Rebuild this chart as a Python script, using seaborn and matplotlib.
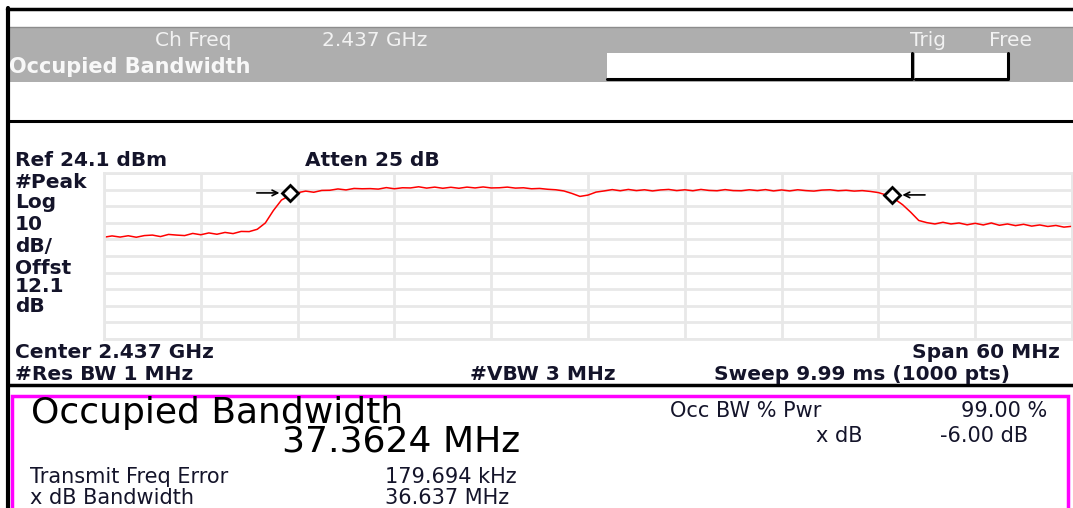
import numpy as np
import pandas as pd
import matplotlib
matplotlib.use("Agg")
import matplotlib.pyplot as plt
from matplotlib.patches import Rectangle
import seaborn as sns

# ---- data ----
center_mhz = 2437.0
span_mhz = 60.0
ref_dbm = 24.1
db_per_div = 10

# trace, sampled every 0.5 MHz from 2407 to 2467 MHz (dBm)
trace_dbm = [
    -14.6, -13.8, -14.5, -13.7, -14.6, -13.6, -13.3, -14.2, -12.9, -13.3,
    -13.6, -12.3, -13.1, -12.0, -12.8, -11.7, -12.4, -11.1, -11.2, -9.8,
    -6.0, 1.5, 7.8, 10.5, 12.2, 13.2, 12.5, 13.6, 13.7, 14.5,
    13.9, 14.8, 14.6, 14.7, 14.4, 15.3, 14.6, 15.2, 15.1, 15.8,
    15.0, 15.6, 14.9, 15.5, 14.9, 15.6, 15.1, 15.7, 15.1, 15.2,
    15.6, 15.0, 15.2, 14.6, 14.8, 14.3, 14.0, 13.3, 11.8, 10.0,
    10.8, 12.6, 13.3, 14.1, 13.4, 14.2, 13.5, 14.0, 13.3, 13.9,
    14.2, 13.5, 14.0, 13.4, 14.2, 13.6, 13.4, 14.1, 13.5, 13.4,
    14.0, 13.5, 14.1, 13.3, 13.9, 13.3, 14.0, 13.5, 13.2, 13.8,
    14.0, 13.4, 13.7, 13.2, 13.5, 13.0, 12.3, 10.8, 8.5, 5.0,
    0.5, -4.5, -5.8, -6.6, -5.6, -6.6, -6.0, -7.1, -6.2, -7.2,
    -6.0, -7.4, -6.6, -7.6, -6.8, -7.9, -7.2, -8.1, -7.5, -8.5,
    -8.0,
]
freq_mhz = np.linspace(center_mhz - span_mhz / 2, center_mhz + span_mhz / 2, len(trace_dbm))

occ_bw_mhz = 37.3624
freq_err_khz = 179.694
marker_levels = [12.1, 10.9]

df = pd.DataFrame({"freq": freq_mhz, "level": trace_dbm})

# ---- figure ----
W, H = 1073, 508
sns.set_style("white")
plt.rcParams["font.family"] = ["DejaVu Sans"]

fig = plt.figure(figsize=(W / 100, H / 100), dpi=100)

# background layer in pixel coordinates
bg = fig.add_axes([0, 0, 1, 1])
bg.set_xlim(0, W)
bg.set_ylim(H, 0)
bg.axis("off")

ink = "#14142a"
light = "#f2f2f2"

# header bands and frame
bg.add_patch(Rectangle((8, 28), W, 54, facecolor="#aeaeae", edgecolor="none"))
bg.plot([8, W], [27, 27], color="#8c8c8c", lw=1)
bg.plot([7, W], [8.5, 8.5], color="black", lw=2.5)
bg.plot([8, 8], [8, H], color="black", lw=3)
bg.plot([8, W], [121, 121], color="black", lw=2.2)
bg.plot([8, W], [385, 385], color="black", lw=2.5)

# white input boxes with dark bottom/right edge
for x0, x1 in [(607, 912), (915, 1008)]:
    bg.add_patch(Rectangle((x0, 53), x1 - x0, 26, facecolor="white", edgecolor="none"))
    bg.plot([x0, x1, x1], [79, 79, 53], color="black", lw=2.2)

hdr = dict(color=light, fontsize=14.5, va="center")
bg.text(155, 41, "Ch Freq", **hdr)
bg.text(322, 41, "2.437 GHz", **hdr)
bg.text(910, 41, "Trig", **hdr)
bg.text(989, 41, "Free", **hdr)
bg.text(9, 67, "Occupied Bandwidth", color="#f8f8f8", fontsize=15, weight="bold", va="center")

# annotation around the graticule
bold = dict(color=ink, fontsize=14.5, weight="bold", va="center")
bg.text(15, 161, "Ref 24.1 dBm", **bold)
bg.text(305, 161, "Atten 25 dB", **bold)
for yy, s in zip([182, 203, 224, 247, 268, 287, 306],
                 ["#Peak", "Log", "10", "dB/", "Offst", "12.1", "dB"]):
    bg.text(15, yy, s, **bold)
bg.text(15, 353, "Center 2.437 GHz", **bold)
bg.text(1060, 353, "Span 60 MHz", ha="right", **bold)
bg.text(15, 375, "#Res BW 1 MHz", **bold)
bg.text(543, 375, "#VBW 3 MHz", ha="center", **bold)
bg.text(862, 375, "Sweep 9.99 ms (1000 pts)", ha="center", **bold)

# measurement result box
bg.add_patch(Rectangle((12, 396), 1056, 140, facecolor="white",
                       edgecolor="#ff00ff", lw=2.5))
bg.text(31, 413, "Occupied Bandwidth", color="black", fontsize=26, va="center")
bg.text(282, 442, f"{occ_bw_mhz:.4f} MHz", color="black", fontsize=26, va="center")
small = dict(color=ink, fontsize=15, va="center")
bg.text(670, 411, "Occ BW % Pwr", **small)
bg.text(1047, 411, "99.00 %", ha="right", **small)
bg.text(862, 436, "x dB", ha="right", **small)
bg.text(1028, 436, "-6.00 dB", ha="right", **small)
bg.text(30, 477, "Transmit Freq Error", **small)
bg.text(385, 477, f"{freq_err_khz:.3f} kHz", **small)
bg.text(30, 498, "x dB Bandwidth", **small)
bg.text(385, 498, "36.637 MHz", **small)

# ---- spectrum graticule ----
ax = fig.add_axes([104 / W, 1 - 339 / H, (1072 - 104) / W, (339 - 173) / H])
ax.set_zorder(2)
ax.set_facecolor("white")

sns.lineplot(data=df, x="freq", y="level", ax=ax, color="#ff0000", lw=1.1)

f0 = center_mhz - span_mhz / 2
ax.set_xlim(f0, f0 + span_mhz)
ax.set_ylim(ref_dbm - 10 * db_per_div, ref_dbm)
ax.set_xticks(np.linspace(f0, f0 + span_mhz, 11))
ax.set_yticks(np.linspace(ref_dbm - 10 * db_per_div, ref_dbm, 11))
ax.set_xticklabels([])
ax.set_yticklabels([])
ax.tick_params(length=0)
ax.set_xlabel("")
ax.set_ylabel("")
ax.grid(True, color="#e8e8e8", lw=2)
for sp in ax.spines.values():
    sp.set_color("#e8e8e8")
    sp.set_linewidth(2)

# OBW markers
mid = center_mhz + freq_err_khz / 1000
f_lo = mid - occ_bw_mhz / 2
f_hi = mid + occ_bw_mhz / 2
ax.plot([f_lo, f_hi], marker_levels, ls="none", marker="D", ms=8,
        mfc="white", mec="black", mew=2, zorder=5)
ax.annotate("", xy=(f_lo - 0.45, marker_levels[0]), xytext=(f_lo - 2.2, marker_levels[0]),
            arrowprops=dict(arrowstyle="->", color="black", lw=1.2))
ax.annotate("", xy=(f_hi + 0.45, marker_levels[1]), xytext=(f_hi + 2.2, marker_levels[1]),
            arrowprops=dict(arrowstyle="->", color="black", lw=1.2))

fig.savefig("out.png", dpi=100)
